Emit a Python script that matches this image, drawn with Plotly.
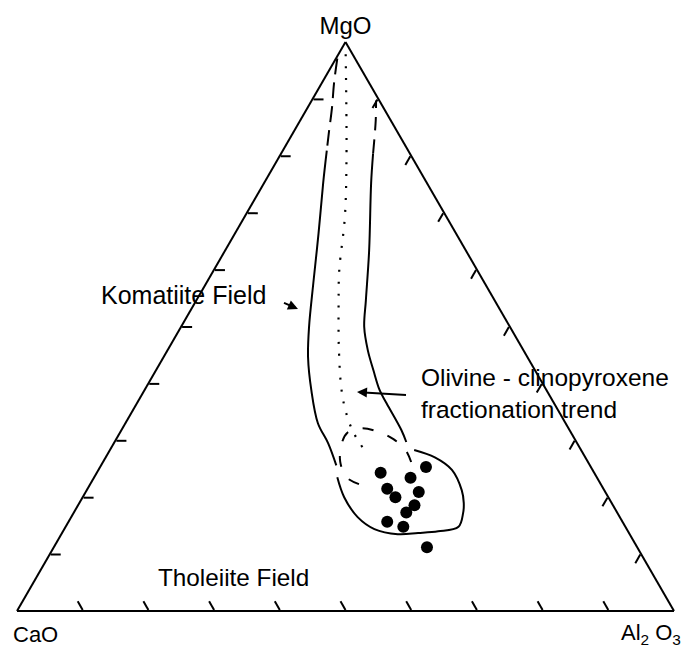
import plotly.graph_objects as go

# ---- data: compositions in percent (MgO, CaO, Al2O3) ----
dots_mgo = [24.3, 25.3, 23.4, 21.5, 20.9, 20.0, 18.6, 17.3, 15.7, 14.8, 11.2]
dots_cao = [32.5, 25.1, 28.4, 32.9, 28.4, 32.4, 30.2, 32.1, 35.8, 33.8, 32.0]
dots_al2o3 = [43.2, 49.6, 48.2, 45.6, 50.7, 47.6, 51.2, 50.6, 48.5, 51.4, 56.8]

# komatiite field outline - left limb (upper dashed part)
left_dash_mgo = [97.1, 92.7, 88.5, 83.9, 80.9]
left_dash_cao = [2.7, 5.4, 7.8, 10.6, 12.4]
left_dash_al = [0.2, 1.9, 3.7, 5.5, 6.7]

# left limb solid part
left_mgo = [80.9, 75.2, 66.4, 57.6, 49.9, 44.6, 38.8, 33.0, 29.5, 25.6]
left_cao = [12.4, 15.8, 20.9, 26.1, 30.6, 33.4, 35.8, 37.7, 37.9, 38.6]
left_al = [6.7, 9.0, 12.7, 16.3, 19.5, 22.0, 25.4, 29.3, 32.6, 35.8]

# lower lobe of the field
lobe_mgo = [23.5, 20.0, 16.5, 14.4, 13.5, 13.7, 14.0, 14.8, 17.2, 19.0, 21.2, 24.8, 27.0, 28.3]
lobe_cao = [39.5, 40.2, 39.9, 38.4, 35.3, 32.1, 28.9, 25.4, 23.5, 22.5, 21.7, 21.4, 22.9, 25.4]
lobe_al = [37.0, 39.8, 43.6, 47.2, 51.2, 54.2, 57.1, 59.8, 59.3, 58.5, 57.1, 53.8, 50.1, 46.3]

# right limb solid part
right_mgo = [29.7, 31.8, 36.5, 38.8, 42.3, 45.8, 49.9, 54.6, 63.4, 75.2, 80.4]
right_cao = [25.9, 25.6, 25.5, 25.4, 24.6, 23.7, 22.2, 19.6, 14.7, 8.5, 5.6]
right_al = [44.4, 42.6, 38.0, 35.8, 33.1, 30.5, 27.9, 25.8, 21.9, 16.3, 14.0]

# right limb upper dashed part
right_dash_mgo = [80.4, 86.2, 89.7]
right_dash_cao = [5.6, 2.3, 0.5]
right_dash_al = [14.0, 11.5, 9.8]

# olivine - clinopyroxene fractionation trend (dotted)
trend_mgo = [100.0, 79.7, 69.2, 59.9, 54.1, 45.8, 38.8, 34.8, 31.4, 28.6]
trend_cao = [0.0, 10.0, 15.5, 21.0, 24.0, 28.1, 31.2, 32.5, 33.1, 33.0]
trend_al = [0.0, 10.3, 15.3, 19.1, 21.9, 26.1, 30.0, 32.7, 35.5, 38.4]

# inner dashed arc
arc_mgo = [22.3, 23.5, 26.2, 29.1, 31.3, 32.1, 31.4, 30.2, 28.3, 25.3]
arc_cao = [36.8, 38.1, 37.7, 36.1, 34.1, 31.5, 29.1, 27.6, 26.7, 27.1]
arc_al = [40.9, 38.4, 36.1, 34.8, 34.6, 36.4, 39.5, 42.2, 45.0, 47.6]

FONT = "Liberation Sans, Arial, sans-serif"

fig = go.Figure()


def line(a, b, c, dash="solid", width=2):
    fig.add_trace(go.Scatterternary(
        a=a, b=b, c=c, mode="lines",
        line=dict(color="black", width=width, dash=dash, shape="spline", smoothing=1),
        hoverinfo="skip", showlegend=False))


line(left_dash_mgo, left_dash_cao, left_dash_al, dash="16px,8px")
line(left_mgo, left_cao, left_al)
line(lobe_mgo, lobe_cao, lobe_al)
line(right_mgo, right_cao, right_al)
line(right_dash_mgo, right_dash_cao, right_dash_al, dash="14px,9px")
line(trend_mgo, trend_cao, trend_al, dash="2px,10px", width=2.2)
line(arc_mgo, arc_cao, arc_al, dash="11px,15px")

fig.add_trace(go.Scatterternary(
    a=dots_mgo, b=dots_cao, c=dots_al2o3, mode="markers",
    marker=dict(color="black", size=12, line=dict(width=0)),
    showlegend=False))

axis_common = dict(
    showticklabels=False, ticks="inside", ticklen=10, tickwidth=1.5,
    tickcolor="black", tick0=0, dtick=10, showgrid=False,
    linecolor="black", linewidth=2, min=0,
)

# paper coordinate helpers for the plot area (l=17, t=40, w=657, h=573)
def px(x):
    return (x - 17) / 657


def py(y):
    return (613 - y) / 573


annotations = [
    dict(text="Komatiite Field", x=px(183), y=py(295), xref="paper", yref="paper",
         showarrow=False, xanchor="center", yanchor="middle", font=dict(size=25)),
    dict(text=" ", x=px(298), y=py(309), xref="paper", yref="paper",
         showarrow=True, ax=-16, ay=-7, arrowhead=2, arrowsize=1, arrowwidth=2,
         arrowcolor="black", standoff=0, font=dict(size=2)),
    dict(text="Olivine - clinopyroxene<br>fractionation trend", x=px(419), y=py(393),
         xref="paper", yref="paper", showarrow=False, xanchor="left", yanchor="middle",
         align="left", font=dict(size=24.5)),
    dict(text=" ", x=px(357), y=py(392), xref="paper", yref="paper",
         showarrow=True, ax=51, ay=3, arrowhead=2, arrowsize=1, arrowwidth=2,
         arrowcolor="black", standoff=0, font=dict(size=2)),
    dict(text="Tholeiite Field", x=px(233), y=py(577), xref="paper", yref="paper",
         showarrow=False, xanchor="center", yanchor="middle", font=dict(size=24.3)),
    dict(text="CaO", x=px(35), y=py(634), xref="paper", yref="paper",
         showarrow=False, xanchor="center", yanchor="middle", font=dict(size=22)),
    dict(text="Al<sub>2</sub> O<sub>3</sub>", x=px(651), y=py(634), xref="paper", yref="paper",
         showarrow=False, xanchor="center", yanchor="middle", font=dict(size=22)),
]

fig.update_layout(
    width=695, height=648,
    margin=dict(l=17, r=21, t=40, b=35),
    paper_bgcolor="white",
    font=dict(family=FONT, color="black", size=22),
    ternary=dict(
        sum=100,
        bgcolor="white",
        aaxis=dict(title=dict(text="MgO", font=dict(size=24)), **axis_common),
        baxis=dict(title=dict(text=""), **axis_common),
        caxis=dict(title=dict(text=""), **axis_common),
    ),
    annotations=annotations,
    showlegend=False,
)

fig.write_html("out.html")
